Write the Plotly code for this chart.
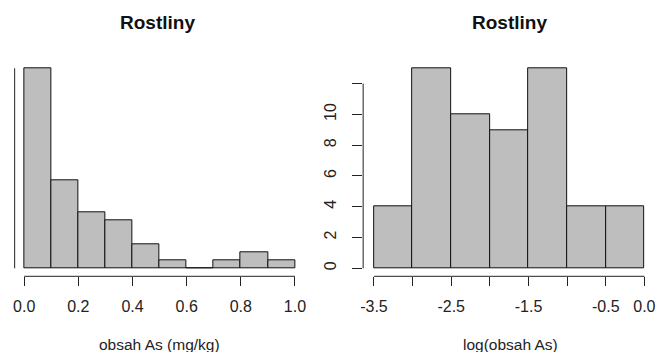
import plotly.graph_objects as go

W, H = 658, 352

# Left histogram: obsah As (mg/kg)
left_edges = [0.0, 0.1, 0.2, 0.3, 0.4, 0.5, 0.6, 0.7, 0.8, 0.9, 1.0]
left_counts = [25, 11, 7, 6, 3, 1, 0, 1, 2, 1]
left_ticks = [0.0, 0.2, 0.4, 0.6, 0.8, 1.0]
left_ticktext = ["0.0", "0.2", "0.4", "0.6", "0.8", "1.0"]

# Right histogram: log(obsah As)
right_edges = [-3.5, -3.0, -2.5, -2.0, -1.5, -1.0, -0.5, 0.0]
right_counts = [4, 13, 10, 9, 13, 4, 4]
right_xticks = [-3.5, -3.0, -2.5, -2.0, -1.5, -1.0, -0.5, 0.0]
right_xticktext = ["-3.5", "", "-2.5", "", "-1.5", "", "-0.5", "0.0"]
right_yticks = [0, 2, 4, 6, 8, 10, 12]
right_yticktext = ["0", "2", "4", "6", "8", "10", ""]

title_text = "Rostliny"
left_xlabel = "obsah As (mg/kg)"
right_xlabel = "log(obsah As)"

FILL = "#BEBEBE"
FONT = "Liberation Sans, Arial, sans-serif"


def centers(edges):
    return [(a + b) / 2 for a, b in zip(edges[:-1], edges[1:])]


def widths(edges):
    return [b - a for a, b in zip(edges[:-1], edges[1:])]


def px(v):
    return v / W


def py(v):
    return 1 - v / H


fig = go.Figure()
fig.add_trace(go.Bar(x=centers(left_edges), y=left_counts, width=widths(left_edges),
                     marker=dict(color=FILL, line=dict(color="#111111", width=1)),
                     xaxis="x", yaxis="y", showlegend=False, hoverinfo="skip"))
fig.add_trace(go.Bar(x=centers(right_edges), y=right_counts, width=widths(right_edges),
                     marker=dict(color=FILL, line=dict(color="#111111", width=1)),
                     xaxis="x2", yaxis="y2", showlegend=False, hoverinfo="skip"))

# plot regions (pixels)
L_left, L_right = 10.4, 304.2
R_left, R_right = 361.8, 655.2
top, bottom = 60.3, 276.3

tickfont = dict(family=FONT, size=16, color="#222222")

common_x = dict(showgrid=False, zeroline=False, showline=False, ticks="outside",
                ticklen=9, tickwidth=1, tickcolor="#222222", tickfont=tickfont,
                tickmode="array", ticklabelstandoff=6)

fig.update_layout(
    width=W, height=H, margin=dict(l=0, r=0, t=0, b=0),
    paper_bgcolor="white", plot_bgcolor="white", bargap=0,
    font=dict(family=FONT, color="#222222"),
    xaxis=dict(domain=[px(L_left), px(L_right)], range=[-0.04, 1.04],
               tickvals=left_ticks, ticktext=left_ticktext, anchor="y", **common_x),
    yaxis=dict(domain=[py(bottom), py(top)], range=[-1, 26], showgrid=False,
               zeroline=False, showline=False, showticklabels=False, ticks="",
               anchor="x"),
    xaxis2=dict(domain=[px(R_left), px(R_right)], range=[-3.64, 0.14],
                tickvals=right_xticks, ticktext=right_xticktext, anchor="y2", **common_x),
    yaxis2=dict(domain=[py(bottom), py(top)], range=[-0.52, 13.52], showgrid=False,
                zeroline=False, showline=False, ticks="outside", ticklen=10,
                tickwidth=1, tickcolor="#222222", tickfont=tickfont,
                tickmode="array", tickvals=right_yticks, ticktext=right_yticktext,
                tickangle=-90, ticklabelstandoff=10, anchor="x2"),
)

# R-style axis lines (span first to last tick)
shapes = [
    dict(type="line", xref="x", yref="paper", x0=left_ticks[0], x1=left_ticks[-1],
         y0=py(bottom), y1=py(bottom), line=dict(color="#222222", width=1)),
    dict(type="line", xref="paper", yref="y", x0=px(L_left + 1.3), x1=px(L_left + 1.3),
         y0=0, y1=max(left_counts), line=dict(color="#222222", width=1)),
    dict(type="line", xref="x2", yref="paper", x0=right_xticks[0], x1=right_xticks[-1],
         y0=py(bottom), y1=py(bottom), line=dict(color="#222222", width=1)),
    dict(type="line", xref="paper", yref="y2", x0=px(R_left), x1=px(R_left),
         y0=right_yticks[0], y1=right_yticks[-1], line=dict(color="#222222", width=1)),
]
fig.update_layout(shapes=shapes)

annots = [
    dict(text="<b>" + title_text + "</b>", x=px(155.5), y=py(23), xref="paper", yref="paper",
         showarrow=False, xanchor="center", yanchor="middle",
         font=dict(family=FONT, size=19, color="#111111")),
    dict(text="<b>" + title_text + "</b>", x=px(508.5), y=py(23), xref="paper", yref="paper",
         showarrow=False, xanchor="center", yanchor="middle",
         font=dict(family=FONT, size=19, color="#111111")),
    dict(text=left_xlabel, x=px(157.5), y=py(344), xref="paper", yref="paper",
         showarrow=False, xanchor="center", yanchor="middle",
         font=dict(family=FONT, size=15.5, color="#222222")),
    dict(text=right_xlabel, x=px(510), y=py(344), xref="paper", yref="paper",
         showarrow=False, xanchor="center", yanchor="middle",
         font=dict(family=FONT, size=15.5, color="#222222")),
]
fig.update_layout(annotations=annots)

fig.write_html("out.html")
